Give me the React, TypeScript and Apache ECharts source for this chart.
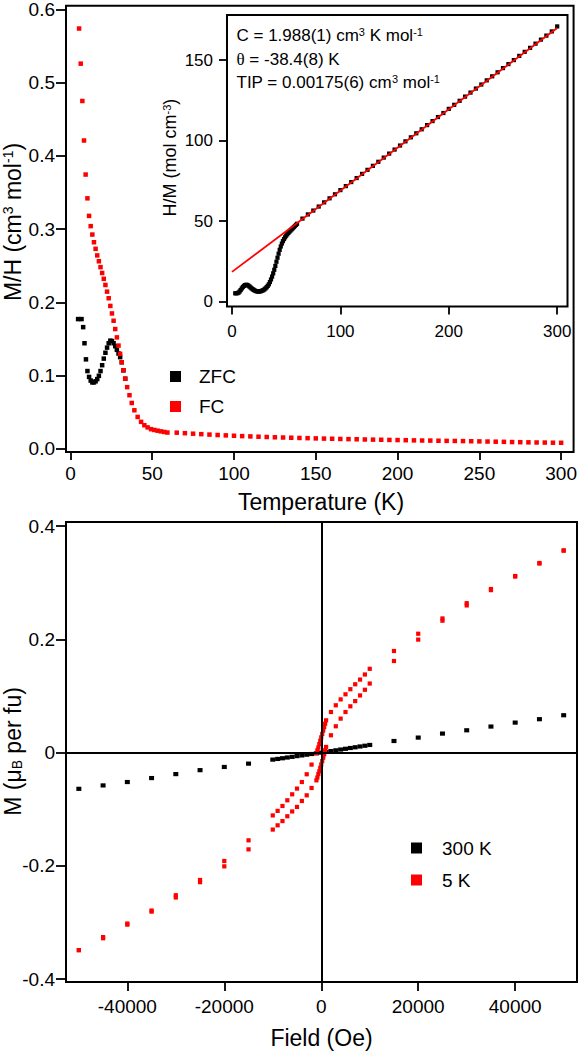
import React, { useEffect, useRef } from "react";
import * as echarts from "echarts";

const FONT = 'Arial, "Liberation Sans", Helvetica, sans-serif';
const SERIF = '"Liberation Serif", "DejaVu Serif", serif';

// ---------- Top panel: M/H vs T ----------
const tempTicks = [0, 50, 100, 150, 200, 250, 300];
const mhTicks = [0, 0.1, 0.2, 0.3, 0.4, 0.5, 0.6];

const zfcTemp = [4.7, 6.8, 7.8, 8.6, 9.5, 10.4, 11.4, 12.4, 13.4, 14.4, 15.4, 16.4, 17.4, 18.4, 19.4, 20.4, 21.4, 22.4, 23.4, 24.4, 25.4, 26.4, 27.4, 28.4, 29.4, 30.4, 31.4, 32.4, 33.5];
const zfcMH = [0.177, 0.177, 0.166, 0.144, 0.122, 0.106, 0.098, 0.093, 0.0905, 0.0905, 0.092, 0.095, 0.0995, 0.106, 0.114, 0.123, 0.131, 0.138, 0.144, 0.1475, 0.147, 0.144, 0.14, 0.135, 0.13, 0.125, 0.118, 0.107, 0.0955];

const fcTemp = [5.3, 6.3, 7.3, 8.3, 9.3, 10.4, 11.4, 12.4, 13.4, 14.4, 15.4, 16.4, 17.4, 18.4, 19.4, 20.4, 21.4, 22.4, 23.4, 24.4, 25.4, 26.4, 27.4, 28.4, 29.4, 30.4, 31.4, 32.4, 33.5, 34.7, 36.1, 37.5, 39.1, 41.1, 43.2, 45.2, 47.2, 49.3, 51.3, 53.3, 55.3, 57.3, 59.3];
const fcMH = [0.574, 0.526, 0.475, 0.421, 0.3745, 0.342, 0.318, 0.304, 0.2925, 0.282, 0.273, 0.264, 0.256, 0.248, 0.24, 0.232, 0.2236, 0.2145, 0.2055, 0.195, 0.1847, 0.1747, 0.1634, 0.152, 0.1408, 0.1295, 0.118, 0.107, 0.0955, 0.084, 0.073, 0.0624, 0.0524, 0.0433, 0.0366, 0.032, 0.029, 0.0266, 0.0255, 0.0245, 0.0236, 0.0228, 0.022];

const fcTailTemp = [65, 70, 75, 80, 85, 90, 95, 100, 105, 110, 115, 120, 125, 130, 135, 140, 145, 150, 155, 160, 165, 170, 175, 180, 185, 190, 195, 200, 205, 210, 215, 220, 225, 230, 235, 240, 245, 250, 255, 260, 265, 270, 275, 280, 285, 290, 295, 300];
const fcTailMH = [0.0218, 0.0211, 0.0204, 0.0198, 0.0192, 0.0186, 0.0181, 0.0176, 0.0171, 0.0167, 0.0163, 0.0159, 0.0155, 0.0152, 0.0149, 0.0146, 0.0143, 0.014, 0.0137, 0.0135, 0.0132, 0.013, 0.0128, 0.0125, 0.0123, 0.0121, 0.0119, 0.0117, 0.0115, 0.0113, 0.0111, 0.011, 0.0108, 0.0106, 0.0105, 0.0103, 0.0101, 0.0099, 0.0097, 0.0095, 0.0093, 0.009, 0.0088, 0.0086, 0.0084, 0.0083, 0.0081, 0.008];

// ---------- Inset: H/M vs T ----------
const insetTempTicks = [0, 100, 200, 300];
const insetHMTicks = [0, 50, 100, 150];
const insetTemp = [3, 4, 5, 6, 7, 8, 9, 10, 11, 12, 13, 14, 15, 16, 17, 18, 19, 20, 21, 22, 23, 24, 25, 26, 27, 28, 29, 30, 31, 32, 33, 34, 35, 36, 37, 38, 39, 40, 41, 42, 43, 44, 45, 46, 47, 48, 49, 50, 51, 52, 53, 54, 55, 56, 57, 58, 59, 60,
  65, 70, 75, 80, 85, 90, 95, 100, 105, 110, 115, 120, 125, 130, 135, 140, 145, 150, 155, 160, 165, 170, 175, 180, 185, 190, 195, 200, 205, 210, 215, 220, 225, 230, 235, 240, 245, 250, 255, 260, 265, 270, 275, 280, 285, 290, 295, 300];
const insetHM = [5.2, 5.2, 5.3, 5.6, 6.3, 7.2, 8.2, 9.1, 9.8, 10.3, 10.5, 10.4, 10.0, 9.5, 8.9, 8.3, 7.8, 7.3, 6.9, 6.6, 6.4, 6.3, 6.3, 6.4, 6.6, 6.9, 7.2, 7.7, 8.3, 9.0, 9.8, 10.8, 12.2, 13.8, 15.6, 17.6, 19.8, 22.2, 24.8, 27.3, 29.8, 32.2, 34.3, 36.1, 37.6, 38.9, 40.0, 41.0, 41.9, 42.7, 43.5, 44.2, 44.9, 45.6, 46.3, 47.0, 47.7, 48.4,
  51.6, 54.2, 56.6, 59.1, 61.7, 64.2, 66.7, 69.3, 71.8, 74.3, 76.8, 79.4, 81.9, 84.4, 86.9, 89.5, 92.0, 94.5, 97.0, 99.6, 102.1, 104.6, 107.1, 109.7, 112.2, 114.7, 117.2, 119.8, 122.3, 124.8, 127.4, 129.9, 132.4, 134.9, 137.5, 140.0, 142.5, 145.1, 147.6, 150.1, 152.7, 155.2, 157.7, 160.3, 162.8, 165.3, 167.9, 171.0];
const fitTemp = [0, 300];
const fitHM = [18.5, 170];

// ---------- Bottom panel: M vs H ----------
const fieldTicks = [-40000, -20000, 0, 20000, 40000];
const momentTicks = [-0.4, -0.2, 0, 0.2, 0.4];

const k300Field = [-50000, -45000, -40000, -35000, -30000, -25000, -20000, -15000, -10000, -9000, -8000, -7000, -6000, -5000, -4000, -3000, -2000, -1000, 0, 1000, 2000, 3000, 4000, 5000, 6000, 7000, 8000, 9000, 10000, 15000, 20000, 25000, 30000, 35000, 40000, 45000, 50000];
const k300M = [-0.064, -0.058, -0.052, -0.045, -0.038, -0.031, -0.0254, -0.0195, -0.0124, -0.0112, -0.01, -0.0087, -0.0075, -0.0062, -0.005, -0.0037, -0.0025, -0.0012, 0, 0.0013, 0.0027, 0.004, 0.0054, 0.0067, 0.0081, 0.0094, 0.0108, 0.0121, 0.0135, 0.0205, 0.0265, 0.0336, 0.0394, 0.046, 0.053, 0.059, 0.066];

const k5DownField = [50000, 45000, 40000, 35000, 30000, 25000, 20000, 15000, 10000, 9000, 8000, 7000, 6000, 5000, 4000, 3000, 2000, 1000, 800, 600, 400, 200, 0, -200, -400, -600, -800, -1000, -2000, -3000, -4000, -5000, -6000, -7000, -8000, -9000, -10000, -15000, -20000, -25000, -30000, -35000, -40000, -45000, -50000];
const k5DownM = [0.357, 0.335, 0.312, 0.289, 0.264, 0.237, 0.21, 0.1795, 0.148, 0.138, 0.129, 0.1207, 0.112, 0.103, 0.094, 0.0836, 0.0717, 0.057, 0.051, 0.045, 0.039, 0.033, 0.027, 0.021, 0.015, 0.009, 0.004, -0.001, -0.0212, -0.0383, -0.052, -0.0636, -0.0737, -0.0843, -0.0943, -0.103, -0.111, -0.155, -0.1915, -0.225, -0.252, -0.279, -0.302, -0.326, -0.349];

const k5UpField = [-50000, -45000, -40000, -35000, -30000, -25000, -20000, -15000, -10000, -9000, -8000, -7000, -6000, -5000, -4000, -3000, -2000, -1000, -800, -600, -400, -200, 0, 200, 400, 600, 800, 1000, 2000, 3000, 4000, 5000, 6000, 7000, 8000, 9000, 10000, 15000, 20000, 25000, 30000, 35000, 40000, 45000, 50000];
const k5UpM = [-0.349, -0.328, -0.304, -0.281, -0.256, -0.229, -0.201, -0.171, -0.136, -0.1285, -0.121, -0.1125, -0.104, -0.096, -0.0855, -0.0755, -0.0625, -0.049, -0.044, -0.038, -0.033, -0.027, -0.021, -0.015, -0.009, -0.003, 0.004, 0.01, 0.0306, 0.0465, 0.06, 0.0717, 0.0818, 0.091, 0.101, 0.111, 0.122, 0.1618, 0.1996, 0.233, 0.26, 0.287, 0.311, 0.334, 0.357];

const zip = (xs: number[], ys: number[]) => xs.map((x, i) => [x, ys[i]]);

const axisCommon = (ticks: number[], tickLen: number, margin: number, fontSize: number, fmt: (v: number) => string) => ({
  type: "value" as const,
  axisLine: { show: false, onZero: false },
  axisTick: { show: true, inside: false, length: tickLen, customValues: ticks, lineStyle: { color: "#000", width: 1.8 } },
  axisLabel: { show: true, customValues: ticks, margin, fontSize, fontFamily: FONT, color: "#000", formatter: fmt, showMinLabel: true, showMaxLabel: true, hideOverlap: false },
  splitLine: { show: false },
});

const supRich = (base: number, sup: number) => ({
  a: { fontSize: base, fontFamily: FONT, fill: "#000", color: "#000" },
  s: { fontSize: sup, fontFamily: FONT, fill: "#000", color: "#000", verticalAlign: "top" },
  b: { fontSize: sup, fontFamily: FONT, fill: "#000", color: "#000", verticalAlign: "bottom" },
  t: { fontSize: base, fontFamily: SERIF, fill: "#000", color: "#000" },
});

const textEl = (x: number, y: number, text: string, base: number, sup: number, align: string, rotation = 0) => ({
  type: "text",
  x,
  y,
  rotation,
  silent: true,
  style: {
    text,
    rich: supRich(base, sup),
    fontSize: base,
    fontFamily: FONT,
    fill: "#000",
    align,
    verticalAlign: "middle",
  },
});

const solid = (color: string) => ({ color, opacity: 1 });

export default function App() {
  const ref = useRef<HTMLDivElement>(null);

  useEffect(() => {
    if (!ref.current) return;
    const chart = echarts.init(ref.current, null, { renderer: "svg" });
    const option: any = {
      animation: false,
      backgroundColor: "#fff",
      grid: [
        { left: 66, top: 3, width: 510, height: 449, show: true, borderColor: "#000", borderWidth: 2, backgroundColor: "transparent", containLabel: false },
        { left: 227, top: 15, width: 340.5, height: 291.5, show: true, borderColor: "#000", borderWidth: 2, backgroundColor: "#fff", containLabel: false },
        { left: 66, top: 522, width: 511, height: 460, show: true, borderColor: "#000", borderWidth: 2, backgroundColor: "transparent", containLabel: false },
      ],
      xAxis: [
        { gridIndex: 0, min: -2.7, max: 307.6, ...axisCommon(tempTicks, 8, 12, 19, (v: number) => String(v)) },
        { gridIndex: 1, min: -4.6, max: 309.5, ...axisCommon(insetTempTicks, 8, 16, 17, (v: number) => String(v)) },
        { gridIndex: 2, min: -52650, max: 52750, ...axisCommon(fieldTicks, 9, 15, 19, (v: number) => String(v)) },
      ],
      yAxis: [
        { gridIndex: 0, min: -0.0046, max: 0.605, ...axisCommon(mhTicks, 10, 11, 19, (v: number) => v.toFixed(1)) },
        { gridIndex: 1, min: -3.0, max: 178.1, ...axisCommon(insetHMTicks, 8, 14, 17, (v: number) => String(v)) },
        { gridIndex: 2, min: -0.4053, max: 0.4074, ...axisCommon(momentTicks, 10, 11, 19, (v: number) => (v === 0 ? "0" : v.toFixed(1))) },
      ],
      legend: [
        {
          data: ["ZFC", "FC"], orient: "vertical", left: 170, top: 367, padding: 0,
          icon: "rect", itemWidth: 11, itemHeight: 11, itemGap: 11, selectedMode: false,
          itemStyle: { opacity: 1 },
          textStyle: { fontSize: 19, fontFamily: FONT, color: "#000", padding: [0, 0, 0, 13], lineHeight: 11 },
        },
        {
          data: ["300 K", "5 K"], orient: "vertical", left: 411, top: 838.5, padding: 0,
          icon: "rect", itemWidth: 11, itemHeight: 11, itemGap: 13, selectedMode: false,
          itemStyle: { opacity: 1 },
          textStyle: { fontSize: 19, fontFamily: FONT, color: "#000", padding: [0, 0, 0, 15], lineHeight: 11 },
        },
      ],
      series: [
        { name: "ZFC", type: "scatter", xAxisIndex: 0, yAxisIndex: 0, symbol: "rect", symbolSize: 4.5, itemStyle: solid("#000"), data: zip(zfcTemp, zfcMH) },
        { name: "FC", type: "scatter", xAxisIndex: 0, yAxisIndex: 0, symbol: "rect", symbolSize: 4.5, itemStyle: solid("#ff0000"), data: zip(fcTemp, fcMH).concat(zip(fcTailTemp, fcTailMH)) },
        { name: "H/M", type: "scatter", xAxisIndex: 1, yAxisIndex: 1, symbol: "rect", symbolSize: 4.2, itemStyle: solid("#000"), data: zip(insetTemp, insetHM) },
        { name: "Curie-Weiss fit", type: "line", xAxisIndex: 1, yAxisIndex: 1, symbol: "none", showSymbol: false, lineStyle: { color: "#ff0000", width: 1.8, opacity: 1 }, data: zip(fitTemp, fitHM), z: 3 },
        {
          name: "300 K", type: "scatter", xAxisIndex: 2, yAxisIndex: 2, symbol: "rect", symbolSize: [5, 4.2], itemStyle: solid("#000"), data: zip(k300Field, k300M),
          markLine: {
            silent: true, symbol: ["none", "none"], label: { show: false }, animation: false,
            lineStyle: { color: "#000", width: 2, type: "solid", opacity: 1 },
            data: [{ xAxis: 0 }, { yAxis: 0 }],
          },
        },
        { name: "5 K", type: "scatter", xAxisIndex: 2, yAxisIndex: 2, symbol: "rect", symbolSize: 4.2, itemStyle: solid("#ff0000"), data: zip(k5DownField, k5DownM) },
        { name: "5 K", type: "scatter", xAxisIndex: 2, yAxisIndex: 2, symbol: "rect", symbolSize: 4.2, itemStyle: solid("#ff0000"), data: zip(k5UpField, k5UpM) },
      ],
      graphic: [
        textEl(12.5, 222, "{a|M/H (cm}{s|3}{a| mol}{s|-1}{a|)}", 23, 14, "center", Math.PI / 2),
        textEl(321, 501.5, "{a|Temperature (K)}", 23, 14, "center"),
        textEl(170, 157.5, "{a|H/M (mol cm}{s|-3}{a|)}", 18, 11, "center", Math.PI / 2),
        textEl(236.5, 35, "{a|C = 1.988(1) cm}{s|3}{a| K mol}{s|-1}", 17, 11, "left"),
        textEl(236.5, 59, "{t|θ}{a| = -38.4(8) K}", 17, 11, "left"),
        textEl(236.5, 82, "{a|TIP = 0.00175(6) cm}{s|3}{a| mol}{s|-1}", 17, 11, "left"),
        textEl(12.5, 751.5, "{a|M (μ}{b|B}{a| per fu)}", 23, 14, "center", Math.PI / 2),
        textEl(321.5, 1037.5, "{a|Field (Oe)}", 23, 14, "center"),
      ],
    };
    chart.setOption(option);
    return () => chart.dispose();
  }, []);

  return <div ref={ref} style={{ position: "fixed", left: 0, top: 0, width: 580, height: 1051, background: "#fff" }} />;
}
